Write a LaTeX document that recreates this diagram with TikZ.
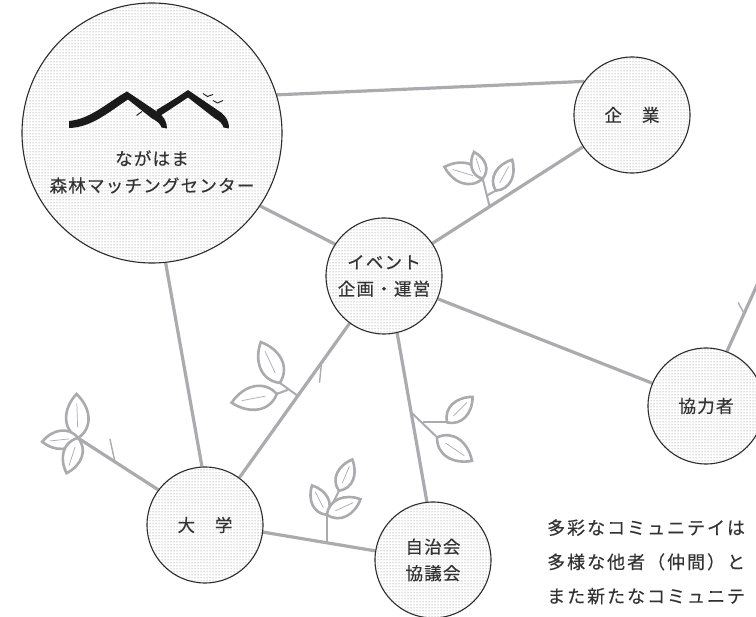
\documentclass[tikz,border=0pt]{standalone}
\usepackage{fontspec}
\newfontfamily\jpfont{Noto Sans CJK JP}[LetterSpace=7, FakeBold=0.4]
\newfontfamily\jpnote{Noto Sans CJK JP}[LetterSpace=11, FakeBold=0.4]
\usetikzlibrary{patterns, backgrounds}
\definecolor{ramo}{HTML}{ABABAF}
\definecolor{bordo}{HTML}{2B2B2B}
\definecolor{testo}{HTML}{333333}
\definecolor{puntini}{HTML}{7A7A7A}
\definecolor{inchiostro}{HTML}{1A1A1A}
\tikzset{
  % cerchio di un soggetto della rete
  hub/.style={circle, draw=bordo, line width=1.1pt, minimum size=116pt, inner sep=0pt,
    preaction={fill=white}, pattern=dots, pattern color=puntini, align=center,
    text=testo, font=\jpfont\fontsize{17.5}{26.5}\selectfont},
  bighub/.style={hub, minimum size=260pt},
  hubtext/.style={align=center, text=testo, inner sep=0pt,
    font=\jpfont\fontsize{17.5}{27}\selectfont},
  % collegamenti tra i soggetti
  link/.style={line width=3.2pt, ramo},
  % rametti
  twig/.style={line width=2pt, ramo},
  tick/.style={line width=1.4pt, ramo},
  % marchio a pennello
  logo/.style={fill=inchiostro},
  bird/.style={line width=0.9pt, inchiostro},
  % testo in basso
  note/.style={text=testo, inner sep=0pt, font=\jpnote\fontsize{18}{20}\selectfont},
  % foglia: base in (0,0), punta in (1,0)
  leaf/.pic={
    \draw[line width=2.6pt, ramo, fill=white] (0,0) .. controls (0.22,0.36) and (0.68,0.32) .. (1,0)
      .. controls (0.68,-0.32) and (0.22,-0.36) .. (0,0) -- cycle;
    \draw[line width=0.7pt, ramo] (0.25,0) -- (0.78,0);
  },
}

\begin{document}
\begin{tikzpicture}[x=1pt, y=-1pt]
  \useasboundingbox (0,0) rectangle (756,617);

  \node[bighub] (mc) at (152,133) {};
  \node[hubtext] (mcname) at (152,172) {ながはま\\森林マッチングセンター};
  \node[hub] (kigyo) at (632,115) {企　業};
  \node[hub] (event) at (384,276) {イベント\\企画・運営};
  \node[hub] (kyoryoku) at (706,406) {協力者};
  \node[hub] (daigaku) at (205,525) {大　学};
  \node[hub] (jichikai) at (433,560) {自治会\\協議会};
  \coordinate (ce) at (78,438);
  \coordinate (fuori) at (762,274);

  \begin{scope}[on background layer]
    \draw[link] (mc.17) -- (kigyo.145);
    \draw[link] (mc.-34) -- (event.147);
    \draw[link] (mc.-84) -- (daigaku.93);
    \draw[link] (kigyo.213) -- coordinate[pos=0.62] (sa) (event.34);
    \draw[link] (event.-23) -- (kyoryoku.157);
    \draw[link] (event.234) -- coordinate[pos=0.255] (tb) coordinate[pos=0.47] (sb) (daigaku.54);
    \draw[link] (event.283) -- coordinate[pos=0.47] (sd) (jichikai.96);
    \draw[link] (daigaku.-7) -- coordinate[pos=0.57] (se) (jichikai.171);
    \draw[link] (daigaku.143) -- coordinate[pos=0.54] (tc) (ce);
    \draw[link] (kyoryoku.69) -- coordinate[pos=0.49] (tk) (fuori);
  \end{scope}

  \draw[twig] (sa) -- ++(-7,-28) coordinate (a1);
  \draw[twig] (sa) ++(-3,-11) -- ++(9,-5) coordinate (a2);
  \pic[rotate=163, scale=40] at (a1) {leaf};
  \pic[rotate=108, scale=28] at (a1) {leaf};
  \pic[rotate=62, scale=35] at (a2) {leaf};

  \draw[twig] (sb) -- ++(-18,-13) coordinate (b1);
  \draw[twig] (sb) ++(-10,-6) -- ++(-11,4) coordinate (b2);
  \pic[rotate=115, scale=45] at (b1) {leaf};
  \pic[rotate=191, scale=46] at (b2) {leaf};
  \draw[tick] (tb) -- ++(-2,20);

  \draw[tick] (tc) -- ++(-5,-23);
  \pic[rotate=92, scale=44] at (ce) {leaf};
  \pic[rotate=186, scale=36] at (ce) {leaf};
  \pic[rotate=252, scale=37] at (ce) {leaf};

  \draw[twig] (sd) -- ++(26,25) coordinate (d1);
  \draw[twig] (sd) ++(12,10) -- ++(24,0) coordinate (d2);
  \pic[rotate=-34, scale=42] at (d1) {leaf};
  \pic[rotate=45, scale=36] at (d2) {leaf};

  \draw[twig] (se) -- ++(0,-28) coordinate (e1);
  \draw[twig] (e1) -- ++(12,-24) coordinate (e2);
  \pic[rotate=117, scale=33] at (e1) {leaf};
  \pic[rotate=25, scale=37] at (e1) {leaf};
  \pic[rotate=67, scale=34] at (e2) {leaf};

  \draw[tick] (tk) -- ++(-6,-11);

  \fill[logo] (69,121) .. controls (91,119) and (108,102) .. (127,91.5) -- (159,113)
    .. controls (164,117) and (167,122) .. (167,128.5) -- (161.5,127.5)
    .. controls (160.5,123.5) and (156,120.5) .. (152,118.5) -- (128,99.5)
    .. controls (110,111) and (92,127.5) .. (69,128) -- cycle;
  \fill[logo] (156.5,110) .. controls (168,103) and (178,97) .. (188,90) -- (221,112.5)
    .. controls (226,116.5) and (229,121) .. (229,128.5) -- (223.5,127.5)
    .. controls (222.5,123.5) and (219,120.5) .. (215,118.5) -- (188,97.5)
    .. controls (178,104) and (168,111) .. (159,116.5) -- cycle;
  \draw[bird] (142,111.5) -- (136.5,115.5);
  \draw[bird] (203,93.5) -- (207.5,96.5) -- (213,94.5);
  \draw[bird] (213,100.5) -- (217.5,103) -- (223,100.5);

  \foreach \riga [count=\i] in {多彩なコミュニテイは, 多様な他者（仲間）と, また新たなコミュニテ}
    \node[note, anchor=base west] (nota\i) at (547,500.3+34.2*\i) {\riga};
\end{tikzpicture}
\end{document}
